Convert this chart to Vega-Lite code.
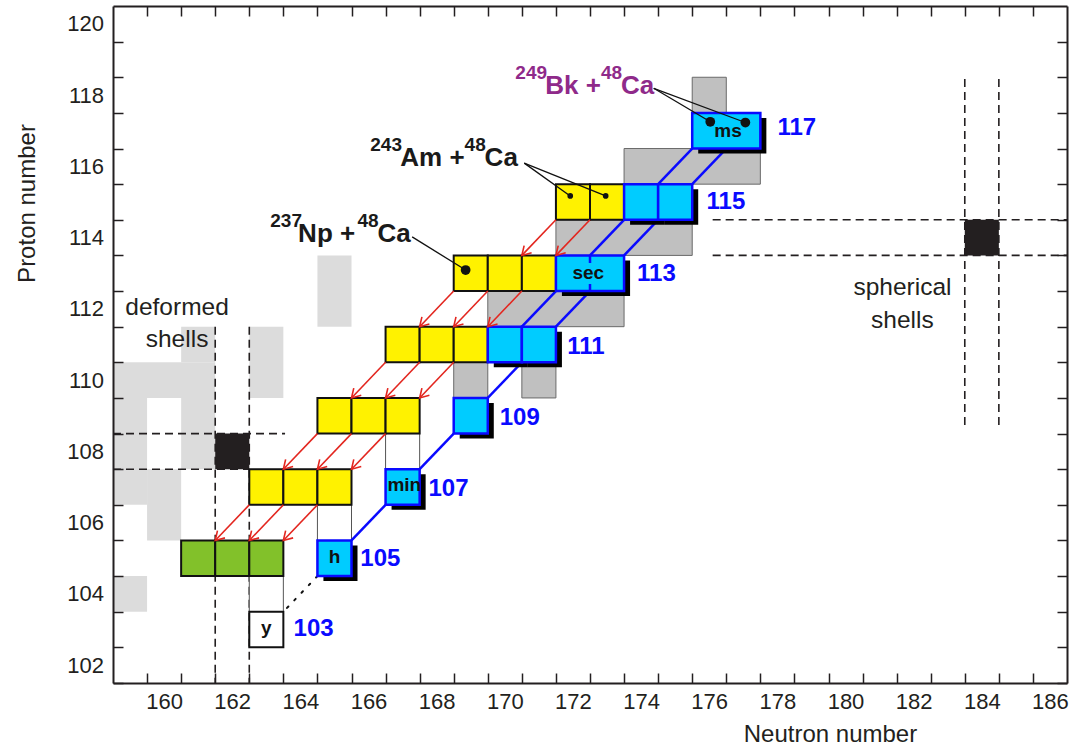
{
 "$schema": "https://vega.github.io/schema/vega-lite/v6.json",
 "width": 954,
 "height": 677,
 "autosize": {"type": "none"},
 "padding": {"left": 113, "top": 6, "right": 6, "bottom": 65},
 "background": "white",
 "config": {"view": {"stroke": null}},
 "resolve": {"axis": {"x": "independent", "y": "independent"}},
 "datasets": {
  "rects": [
   {"kind": "light", "n1": 164.5, "n2": 165.5, "z1": 111.5, "z2": 113.5},
   {"kind": "light", "n1": 160.5, "n2": 161.5, "z1": 110.5, "z2": 111.5},
   {"kind": "light", "n1": 162.5, "n2": 163.5, "z1": 109.5, "z2": 111.5},
   {"kind": "light", "n1": 158.5, "n2": 161.5, "z1": 109.5, "z2": 110.5},
   {"kind": "light", "n1": 158.5, "n2": 159.5, "z1": 106.5, "z2": 109.5},
   {"kind": "light", "n1": 160.5, "n2": 161.5, "z1": 107.5, "z2": 109.5},
   {"kind": "light", "n1": 159.5, "n2": 160.5, "z1": 105.5, "z2": 107.5},
   {"kind": "light", "n1": 158.5, "n2": 159.5, "z1": 103.5, "z2": 104.5},
   {"kind": "black", "n1": 161.5, "n2": 162.5, "z1": 107.5, "z2": 108.5},
   {"kind": "black", "n1": 183.5, "n2": 184.5, "z1": 113.5, "z2": 114.5},
   {"kind": "grey", "n1": 175.5, "n2": 176.5, "z1": 116.5, "z2": 118.5},
   {"kind": "grey", "n1": 173.5, "n2": 177.5, "z1": 115.5, "z2": 116.5},
   {"kind": "grey", "n1": 171.5, "n2": 175.5, "z1": 113.5, "z2": 114.5},
   {"kind": "grey", "n1": 169.5, "n2": 173.5, "z1": 111.5, "z2": 112.5},
   {"kind": "grey", "n1": 168.5, "n2": 169.5, "z1": 109.5, "z2": 110.5},
   {"kind": "grey", "n1": 170.5, "n2": 171.5, "z1": 109.5, "z2": 110.5},
   {"kind": "outline", "n1": 166.5, "n2": 167.5, "z1": 107.5, "z2": 108.5},
   {"kind": "outline", "n1": 164.5, "n2": 165.5, "z1": 105.5, "z2": 106.5},
   {"kind": "outline", "n1": 162.5, "n2": 163.5, "z1": 103.5, "z2": 104.5},
   {"kind": "yellow", "n1": 171.5, "n2": 172.5, "z1": 114.5, "z2": 115.5},
   {"kind": "yellow", "n1": 172.5, "n2": 173.5, "z1": 114.5, "z2": 115.5},
   {"kind": "yellow", "n1": 168.5, "n2": 169.5, "z1": 112.5, "z2": 113.5},
   {"kind": "yellow", "n1": 169.5, "n2": 170.5, "z1": 112.5, "z2": 113.5},
   {"kind": "yellow", "n1": 170.5, "n2": 171.5, "z1": 112.5, "z2": 113.5},
   {"kind": "yellow", "n1": 166.5, "n2": 167.5, "z1": 110.5, "z2": 111.5},
   {"kind": "yellow", "n1": 167.5, "n2": 168.5, "z1": 110.5, "z2": 111.5},
   {"kind": "yellow", "n1": 168.5, "n2": 169.5, "z1": 110.5, "z2": 111.5},
   {"kind": "yellow", "n1": 164.5, "n2": 165.5, "z1": 108.5, "z2": 109.5},
   {"kind": "yellow", "n1": 165.5, "n2": 166.5, "z1": 108.5, "z2": 109.5},
   {"kind": "yellow", "n1": 166.5, "n2": 167.5, "z1": 108.5, "z2": 109.5},
   {"kind": "yellow", "n1": 162.5, "n2": 163.5, "z1": 106.5, "z2": 107.5},
   {"kind": "yellow", "n1": 163.5, "n2": 164.5, "z1": 106.5, "z2": 107.5},
   {"kind": "yellow", "n1": 164.5, "n2": 165.5, "z1": 106.5, "z2": 107.5},
   {"kind": "green", "n1": 160.5, "n2": 161.5, "z1": 104.5, "z2": 105.5},
   {"kind": "green", "n1": 161.5, "n2": 162.5, "z1": 104.5, "z2": 105.5},
   {"kind": "green", "n1": 162.5, "n2": 163.5, "z1": 104.5, "z2": 105.5},
   {"kind": "white", "n1": 162.5, "n2": 163.5, "z1": 102.5, "z2": 103.5},
   {"kind": "blue", "n1": 175.5, "n2": 177.5, "z1": 116.5, "z2": 117.5},
   {"kind": "blue", "n1": 173.5, "n2": 174.5, "z1": 114.5, "z2": 115.5},
   {"kind": "blue", "n1": 174.5, "n2": 175.5, "z1": 114.5, "z2": 115.5},
   {"kind": "blue", "n1": 171.5, "n2": 173.5, "z1": 112.5, "z2": 113.5},
   {"kind": "blue", "n1": 169.5, "n2": 170.5, "z1": 110.5, "z2": 111.5},
   {"kind": "blue", "n1": 170.5, "n2": 171.5, "z1": 110.5, "z2": 111.5},
   {"kind": "blue", "n1": 168.5, "n2": 169.5, "z1": 108.5, "z2": 109.5},
   {"kind": "blue", "n1": 166.5, "n2": 167.5, "z1": 106.5, "z2": 107.5},
   {"kind": "blue", "n1": 164.5, "n2": 165.5, "z1": 104.5, "z2": 105.5}
  ],
  "links": [
   {"kind": "dash", "n1": 161.5, "z1": 111.5, "n2": 161.5, "z2": 101.5},
   {"kind": "dash", "n1": 162.5, "z1": 111.5, "n2": 162.5, "z2": 101.5},
   {"kind": "dash", "n1": 158.5, "z1": 108.5, "n2": 163.55, "z2": 108.5},
   {"kind": "dash", "n1": 158.5, "z1": 107.5, "n2": 162.5, "z2": 107.5},
   {"kind": "dash", "n1": 183.5, "z1": 118.45, "n2": 183.5, "z2": 108.65},
   {"kind": "dash", "n1": 184.5, "z1": 118.45, "n2": 184.5, "z2": 108.65},
   {"kind": "dash", "n1": 176.1, "z1": 114.5, "n2": 186.5, "z2": 114.5},
   {"kind": "dash", "n1": 176.1, "z1": 113.5, "n2": 186.5, "z2": 113.5},
   {"kind": "chain", "n1": 175.5, "z1": 116.5, "n2": 174.5, "z2": 115.5},
   {"kind": "chain", "n1": 176.5, "z1": 116.5, "n2": 175.5, "z2": 115.5},
   {"kind": "chain", "n1": 173.5, "z1": 114.5, "n2": 172.5, "z2": 113.5},
   {"kind": "chain", "n1": 174.5, "z1": 114.5, "n2": 173.5, "z2": 113.5},
   {"kind": "chain", "n1": 171.5, "z1": 112.5, "n2": 170.5, "z2": 111.5},
   {"kind": "chain", "n1": 172.5, "z1": 112.5, "n2": 171.5, "z2": 111.5},
   {"kind": "chain", "n1": 170.5, "z1": 110.5, "n2": 169.5, "z2": 109.5},
   {"kind": "chain", "n1": 168.5, "z1": 108.5, "n2": 167.5, "z2": 107.5},
   {"kind": "chain", "n1": 166.5, "z1": 106.5, "n2": 165.5, "z2": 105.5},
   {"kind": "dotted", "n1": 164.5, "z1": 104.5, "n2": 163.5, "z2": 103.5},
   {"kind": "divider", "n1": 172.5, "z1": 113.5, "n2": 172.5, "z2": 112.5},
   {"kind": "alpha", "n1": 171.5, "z1": 114.5, "n2": 170.5, "z2": 113.5},
   {"kind": "alpha", "n1": 172.5, "z1": 114.5, "n2": 171.5, "z2": 113.5},
   {"kind": "alpha", "n1": 168.5, "z1": 112.5, "n2": 167.5, "z2": 111.5},
   {"kind": "alpha", "n1": 169.5, "z1": 112.5, "n2": 168.5, "z2": 111.5},
   {"kind": "alpha", "n1": 170.5, "z1": 112.5, "n2": 169.5, "z2": 111.5},
   {"kind": "alpha", "n1": 166.5, "z1": 110.5, "n2": 165.5, "z2": 109.5},
   {"kind": "alpha", "n1": 167.5, "z1": 110.5, "n2": 166.5, "z2": 109.5},
   {"kind": "alpha", "n1": 168.5, "z1": 110.5, "n2": 167.5, "z2": 109.5},
   {"kind": "alpha", "n1": 164.5, "z1": 108.5, "n2": 163.5, "z2": 107.5},
   {"kind": "alpha", "n1": 165.5, "z1": 108.5, "n2": 164.5, "z2": 107.5},
   {"kind": "alpha", "n1": 166.5, "z1": 108.5, "n2": 165.5, "z2": 107.5},
   {"kind": "alpha", "n1": 162.5, "z1": 106.5, "n2": 161.5, "z2": 105.5},
   {"kind": "alpha", "n1": 163.5, "z1": 106.5, "n2": 162.5, "z2": 105.5},
   {"kind": "alpha", "n1": 164.5, "z1": 106.5, "n2": 163.5, "z2": 105.5},
   {"kind": "pointer", "n1": 174.37, "z1": 118.19, "n2": 176.03, "z2": 117.25},
   {"kind": "pointer", "n1": 174.37, "z1": 118.19, "n2": 177.06, "z2": 117.23},
   {"kind": "pointer", "n1": 170.57, "z1": 116.09, "n2": 171.92, "z2": 115.17},
   {"kind": "pointer", "n1": 170.57, "z1": 116.09, "n2": 172.96, "z2": 115.17},
   {"kind": "pointer", "n1": 167.28, "z1": 114.02, "n2": 168.85, "z2": 113.09}
  ],
  "dots": [
   {"kind": "big", "n": 176.03, "z": 117.25},
   {"kind": "big", "n": 177.06, "z": 117.23},
   {"kind": "big", "n": 168.85, "z": 113.09},
   {"kind": "small", "n": 171.92, "z": 115.17},
   {"kind": "small", "n": 172.96, "z": 115.17}
  ],
  "texts": [
   {"kind": "cell", "n": 176.55, "z": 116.98, "label": "ms"},
   {"kind": "cell", "n": 172.45, "z": 113.0, "label": "sec"},
   {"kind": "cell", "n": 167.05, "z": 107.05, "label": "min"},
   {"kind": "cell", "n": 165.0, "z": 105.05, "label": "h"},
   {"kind": "cell", "n": 163.0, "z": 103.05, "label": "y"},
   {"kind": "zlabel", "n": 178.0, "z": 117.09, "label": "117"},
   {"kind": "zlabel", "n": 175.92, "z": 115.01, "label": "115"},
   {"kind": "zlabel", "n": 173.88, "z": 112.97, "label": "113"},
   {"kind": "zlabel", "n": 171.83, "z": 110.94, "label": "111"},
   {"kind": "zlabel", "n": 169.85, "z": 108.95, "label": "109"},
   {"kind": "zlabel", "n": 167.76, "z": 106.95, "label": "107"},
   {"kind": "zlabel", "n": 165.76, "z": 104.97, "label": "105"},
   {"kind": "zlabel", "n": 163.8, "z": 103.01, "label": "103"},
   {"kind": "rsup", "grp": "Bk", "n": 170.308, "z": 118.45, "label": "249"},
   {"kind": "rmain", "grp": "Bk", "n": 171.189, "z": 118.03, "label": "Bk +"},
   {"kind": "rsup", "grp": "Bk", "n": 172.821, "z": 118.45, "label": "48"},
   {"kind": "rmain", "grp": "Bk", "n": 173.408, "z": 118.03, "label": "Ca"},
   {"kind": "rsup", "grp": "Am", "n": 166.052, "z": 116.43, "label": "243"},
   {"kind": "rmain", "grp": "Am", "n": 166.933, "z": 116.01, "label": "Am +"},
   {"kind": "rsup", "grp": "Am", "n": 168.82, "z": 116.43, "label": "48"},
   {"kind": "rmain", "grp": "Am", "n": 169.407, "z": 116.01, "label": "Ca"},
   {"kind": "rsup", "grp": "Np", "n": 163.117, "z": 114.3, "label": "237"},
   {"kind": "rmain", "grp": "Np", "n": 163.933, "z": 113.87, "label": "Np +"},
   {"kind": "rsup", "grp": "Np", "n": 165.673, "z": 114.3, "label": "48"},
   {"kind": "rmain", "grp": "Np", "n": 166.26, "z": 113.87, "label": "Ca"},
   {"kind": "shell", "n": 160.38, "z": 111.83, "label": "deformed"},
   {"kind": "shell", "n": 160.38, "z": 110.94, "label": "shells"},
   {"kind": "shell", "n": 181.67, "z": 112.39, "label": "spherical"},
   {"kind": "shell", "n": 181.67, "z": 111.47, "label": "shells"}
  ]
 },
 "layer": [
  {
   "data": {"name": "rects"},
   "transform": [{"filter": "datum.kind == 'light'"}],
   "mark": {"type": "rect", "fill": "#dcdcdc"},
   "encoding": {
    "x": {"field": "n1", "type": "quantitative", "scale": {"domain": [158.5, 186.5], "nice": false, "zero": false},
     "axis": {"orient": "bottom", "values": [159.5,160.5,161.5,162.5,163.5,164.5,165.5,166.5,167.5,168.5,169.5,170.5,171.5,172.5,173.5,174.5,175.5,176.5,177.5,178.5,179.5,180.5,181.5,182.5,183.5,184.5,185.5],
      "labelExpr": "(datum.value + 0.5) % 2 == 0 ? format(datum.value + 0.5, 'd') : ''",
      "labelOffset": 17, "labelPadding": 18, "labelFont": "Liberation Sans", "labelFontSize": 22, "labelColor": "#231f20",
      "labelFlush": false, "labelOverlap": false, "labelBound": false,
      "tickSize": -10, "tickWidth": 1.5, "tickColor": "#231f20",
      "domainColor": "#231f20", "domainWidth": 2, "grid": false,
      "title": "Neutron number", "titleFont": "Liberation Sans", "titleFontSize": 24, "titleFontWeight": "normal", "titleColor": "#231f20",
      "titleX": 717, "titleY": 51, "titleAlign": "center", "titleBaseline": "middle", "titleAngle": 0, "zindex": 1}},
    "x2": {"field": "n2"},
    "y": {"field": "z1", "type": "quantitative", "scale": {"domain": [101.5, 120.5], "nice": false, "zero": false},
     "axis": {"orient": "left", "values": [101.5,102.5,103.5,104.5,105.5,106.5,107.5,108.5,109.5,110.5,111.5,112.5,113.5,114.5,115.5,116.5,117.5,118.5,119.5],
      "labelExpr": "(datum.value + 0.5) % 2 == 0 ? format(datum.value + 0.5, 'd') : ''",
      "labelOffset": -17.8, "labelPadding": 19.5, "labelFont": "Liberation Sans", "labelFontSize": 22, "labelColor": "#231f20",
      "labelAlign": "right", "labelBaseline": "middle",
      "labelFlush": false, "labelOverlap": false, "labelBound": false,
      "tickSize": -10, "tickWidth": 1.5, "tickColor": "#231f20",
      "domainColor": "#231f20", "domainWidth": 2, "grid": false,
      "title": "Proton number", "titleFont": "Liberation Sans", "titleFontSize": 24, "titleFontWeight": "normal", "titleColor": "#231f20",
      "titleX": -86, "titleY": 197, "titleAlign": "center", "titleBaseline": "middle", "titleAngle": -90, "zindex": 1}},
    "y2": {"field": "z2"}
   }
  },
  {
   "data": {"name": "links"},
   "transform": [{"filter": "datum.kind == 'dash'"}],
   "mark": {"type": "rule", "color": "#231f20", "strokeWidth": 1.6, "strokeDash": [8, 5]},
   "encoding": {
    "x": {"field": "n1", "type": "quantitative", "scale": {"domain": [158.5, 186.5], "nice": false, "zero": false},
     "axis": {"orient": "top", "values": [159.5,160.5,161.5,162.5,163.5,164.5,165.5,166.5,167.5,168.5,169.5,170.5,171.5,172.5,173.5,174.5,175.5,176.5,177.5,178.5,179.5,180.5,181.5,182.5,183.5,184.5,185.5],
      "labels": false, "tickSize": -10, "tickWidth": 1.5, "tickColor": "#231f20", "domainColor": "#231f20", "domainWidth": 2, "grid": false, "title": null, "zindex": 1}},
    "x2": {"field": "n2"},
    "y": {"field": "z1", "type": "quantitative", "scale": {"domain": [101.5, 120.5], "nice": false, "zero": false},
     "axis": {"orient": "right", "values": [101.5,102.5,103.5,104.5,105.5,106.5,107.5,108.5,109.5,110.5,111.5,112.5,113.5,114.5,115.5,116.5,117.5,118.5,119.5],
      "labels": false, "tickSize": -10, "tickWidth": 1.5, "tickColor": "#231f20", "domainColor": "#231f20", "domainWidth": 2, "grid": false, "title": null, "zindex": 1}},
    "y2": {"field": "z2"}
   }
  },
  {
   "data": {"name": "rects"},
   "transform": [{"filter": "datum.kind == 'black'"}],
   "mark": {"type": "rect", "fill": "#231f20"},
   "encoding": {
    "x": {"field": "n1", "type": "quantitative", "scale": {"domain": [158.5, 186.5], "nice": false, "zero": false}, "axis": null},
    "x2": {"field": "n2"},
    "y": {"field": "z1", "type": "quantitative", "scale": {"domain": [101.5, 120.5], "nice": false, "zero": false}, "axis": null},
    "y2": {"field": "z2"}
   }
  },
  {
   "data": {"name": "rects"},
   "transform": [{"filter": "datum.kind == 'grey'"}],
   "mark": {"type": "rect", "fill": "#c0c0c0", "stroke": "#6a6a6a", "strokeWidth": 1},
   "encoding": {
    "x": {"field": "n1", "type": "quantitative", "scale": {"domain": [158.5, 186.5], "nice": false, "zero": false}, "axis": null},
    "x2": {"field": "n2"},
    "y": {"field": "z1", "type": "quantitative", "scale": {"domain": [101.5, 120.5], "nice": false, "zero": false}, "axis": null},
    "y2": {"field": "z2"}
   }
  },
  {
   "data": {"name": "rects"},
   "transform": [{"filter": "datum.kind == 'outline'"}],
   "mark": {"type": "rect", "fill": "white", "stroke": "#555555", "strokeWidth": 1},
   "encoding": {
    "x": {"field": "n1", "type": "quantitative", "scale": {"domain": [158.5, 186.5], "nice": false, "zero": false}, "axis": null},
    "x2": {"field": "n2"},
    "y": {"field": "z1", "type": "quantitative", "scale": {"domain": [101.5, 120.5], "nice": false, "zero": false}, "axis": null},
    "y2": {"field": "z2"}
   }
  },
  {
   "data": {"name": "links"},
   "transform": [{"filter": "datum.kind == 'chain'"}],
   "mark": {"type": "rule", "color": "#0a0aff", "strokeWidth": 2.5},
   "encoding": {
    "x": {"field": "n1", "type": "quantitative", "scale": {"domain": [158.5, 186.5], "nice": false, "zero": false}, "axis": null},
    "x2": {"field": "n2"},
    "y": {"field": "z1", "type": "quantitative", "scale": {"domain": [101.5, 120.5], "nice": false, "zero": false}, "axis": null},
    "y2": {"field": "z2"}
   }
  },
  {
   "data": {"name": "links"},
   "transform": [{"filter": "datum.kind == 'dotted'"}],
   "mark": {"type": "rule", "color": "#111111", "strokeWidth": 2, "strokeDash": [2, 8.5], "strokeCap": "round"},
   "encoding": {
    "x": {"field": "n1", "type": "quantitative", "scale": {"domain": [158.5, 186.5], "nice": false, "zero": false}, "axis": null},
    "x2": {"field": "n2"},
    "y": {"field": "z1", "type": "quantitative", "scale": {"domain": [101.5, 120.5], "nice": false, "zero": false}, "axis": null},
    "y2": {"field": "z2"}
   }
  },
  {
   "data": {"name": "rects"},
   "transform": [{"filter": "datum.kind == 'blue'"}],
   "mark": {"type": "rect", "fill": "#000000", "xOffset": 6, "x2Offset": 6, "yOffset": 5, "y2Offset": 5},
   "encoding": {
    "x": {"field": "n1", "type": "quantitative", "scale": {"domain": [158.5, 186.5], "nice": false, "zero": false}, "axis": null},
    "x2": {"field": "n2"},
    "y": {"field": "z1", "type": "quantitative", "scale": {"domain": [101.5, 120.5], "nice": false, "zero": false}, "axis": null},
    "y2": {"field": "z2"}
   }
  },
  {
   "data": {"name": "rects"},
   "transform": [{"filter": "datum.kind == 'yellow'"}],
   "mark": {"type": "rect", "fill": "#fff200", "stroke": "#111111", "strokeWidth": 2},
   "encoding": {
    "x": {"field": "n1", "type": "quantitative", "scale": {"domain": [158.5, 186.5], "nice": false, "zero": false}, "axis": null},
    "x2": {"field": "n2"},
    "y": {"field": "z1", "type": "quantitative", "scale": {"domain": [101.5, 120.5], "nice": false, "zero": false}, "axis": null},
    "y2": {"field": "z2"}
   }
  },
  {
   "data": {"name": "rects"},
   "transform": [{"filter": "datum.kind == 'green'"}],
   "mark": {"type": "rect", "fill": "#82c12a", "stroke": "#111111", "strokeWidth": 2},
   "encoding": {
    "x": {"field": "n1", "type": "quantitative", "scale": {"domain": [158.5, 186.5], "nice": false, "zero": false}, "axis": null},
    "x2": {"field": "n2"},
    "y": {"field": "z1", "type": "quantitative", "scale": {"domain": [101.5, 120.5], "nice": false, "zero": false}, "axis": null},
    "y2": {"field": "z2"}
   }
  },
  {
   "data": {"name": "rects"},
   "transform": [{"filter": "datum.kind == 'white'"}],
   "mark": {"type": "rect", "fill": "white", "stroke": "#111111", "strokeWidth": 2},
   "encoding": {
    "x": {"field": "n1", "type": "quantitative", "scale": {"domain": [158.5, 186.5], "nice": false, "zero": false}, "axis": null},
    "x2": {"field": "n2"},
    "y": {"field": "z1", "type": "quantitative", "scale": {"domain": [101.5, 120.5], "nice": false, "zero": false}, "axis": null},
    "y2": {"field": "z2"}
   }
  },
  {
   "data": {"name": "rects"},
   "transform": [{"filter": "datum.kind == 'blue'"}],
   "mark": {"type": "rect", "fill": "#00ccff", "stroke": "#0a0aff", "strokeWidth": 2.5},
   "encoding": {
    "x": {"field": "n1", "type": "quantitative", "scale": {"domain": [158.5, 186.5], "nice": false, "zero": false}, "axis": null},
    "x2": {"field": "n2"},
    "y": {"field": "z1", "type": "quantitative", "scale": {"domain": [101.5, 120.5], "nice": false, "zero": false}, "axis": null},
    "y2": {"field": "z2"}
   }
  },
  {
   "data": {"name": "links"},
   "transform": [{"filter": "datum.kind == 'divider'"}],
   "mark": {"type": "rule", "color": "#0a0aff", "strokeWidth": 2.5, "strokeDash": [7.5, 21]},
   "encoding": {
    "x": {"field": "n1", "type": "quantitative", "scale": {"domain": [158.5, 186.5], "nice": false, "zero": false}, "axis": null},
    "x2": {"field": "n2"},
    "y": {"field": "z1", "type": "quantitative", "scale": {"domain": [101.5, 120.5], "nice": false, "zero": false}, "axis": null},
    "y2": {"field": "z2"}
   }
  },
  {
   "data": {"name": "links"},
   "transform": [{"filter": "datum.kind == 'alpha'"}],
   "mark": {"type": "rule", "color": "#e3261f", "strokeWidth": 1.6},
   "encoding": {
    "x": {"field": "n1", "type": "quantitative", "scale": {"domain": [158.5, 186.5], "nice": false, "zero": false}, "axis": null},
    "x2": {"field": "n2"},
    "y": {"field": "z1", "type": "quantitative", "scale": {"domain": [101.5, 120.5], "nice": false, "zero": false}, "axis": null},
    "y2": {"field": "z2"}
   }
  },
  {
   "data": {"name": "links"},
   "transform": [{"filter": "datum.kind == 'alpha'"}],
   "mark": {"type": "point", "shape": "M-1,-0.6L0,0L-1,0.6", "filled": false, "color": "#e3261f", "strokeWidth": 1.6, "size": 300, "angle": 134, "opacity": 1},
   "encoding": {
    "x": {"field": "n2", "type": "quantitative", "scale": {"domain": [158.5, 186.5], "nice": false, "zero": false}, "axis": null},
    "y": {"field": "z2", "type": "quantitative", "scale": {"domain": [101.5, 120.5], "nice": false, "zero": false}, "axis": null}
   }
  },
  {
   "data": {"name": "links"},
   "transform": [{"filter": "datum.kind == 'pointer'"}],
   "mark": {"type": "rule", "color": "#111111", "strokeWidth": 1.3},
   "encoding": {
    "x": {"field": "n1", "type": "quantitative", "scale": {"domain": [158.5, 186.5], "nice": false, "zero": false}, "axis": null},
    "x2": {"field": "n2"},
    "y": {"field": "z1", "type": "quantitative", "scale": {"domain": [101.5, 120.5], "nice": false, "zero": false}, "axis": null},
    "y2": {"field": "z2"}
   }
  },
  {
   "data": {"name": "dots"},
   "transform": [{"filter": "datum.kind == 'big'"}],
   "mark": {"type": "circle", "color": "#111111", "size": 95, "opacity": 1},
   "encoding": {
    "x": {"field": "n", "type": "quantitative", "scale": {"domain": [158.5, 186.5], "nice": false, "zero": false}, "axis": null},
    "y": {"field": "z", "type": "quantitative", "scale": {"domain": [101.5, 120.5], "nice": false, "zero": false}, "axis": null}
   }
  },
  {
   "data": {"name": "dots"},
   "transform": [{"filter": "datum.kind == 'small'"}],
   "mark": {"type": "circle", "color": "#111111", "size": 32, "opacity": 1},
   "encoding": {
    "x": {"field": "n", "type": "quantitative", "scale": {"domain": [158.5, 186.5], "nice": false, "zero": false}, "axis": null},
    "y": {"field": "z", "type": "quantitative", "scale": {"domain": [101.5, 120.5], "nice": false, "zero": false}, "axis": null}
   }
  },
  {
   "data": {"name": "texts"},
   "transform": [{"filter": "datum.kind == 'cell'"}],
   "mark": {"type": "text", "font": "Liberation Sans", "fontWeight": "bold", "fontSize": 19, "color": "#111111", "align": "center", "baseline": "middle"},
   "encoding": {
    "x": {"field": "n", "type": "quantitative", "scale": {"domain": [158.5, 186.5], "nice": false, "zero": false}, "axis": null},
    "y": {"field": "z", "type": "quantitative", "scale": {"domain": [101.5, 120.5], "nice": false, "zero": false}, "axis": null},
    "text": {"field": "label"}
   }
  },
  {
   "data": {"name": "texts"},
   "transform": [{"filter": "datum.kind == 'zlabel'"}],
   "mark": {"type": "text", "font": "Liberation Sans", "fontWeight": "bold", "fontSize": 24, "color": "#0a0aff", "align": "left", "baseline": "middle"},
   "encoding": {
    "x": {"field": "n", "type": "quantitative", "scale": {"domain": [158.5, 186.5], "nice": false, "zero": false}, "axis": null},
    "y": {"field": "z", "type": "quantitative", "scale": {"domain": [101.5, 120.5], "nice": false, "zero": false}, "axis": null},
    "text": {"field": "label"}
   }
  },
  {
   "data": {"name": "texts"},
   "transform": [{"filter": "datum.kind == 'rmain'"}],
   "mark": {"type": "text", "font": "Liberation Sans", "fontWeight": "bold", "fontSize": 26, "align": "left", "baseline": "alphabetic"},
   "encoding": {
    "x": {"field": "n", "type": "quantitative", "scale": {"domain": [158.5, 186.5], "nice": false, "zero": false}, "axis": null},
    "y": {"field": "z", "type": "quantitative", "scale": {"domain": [101.5, 120.5], "nice": false, "zero": false}, "axis": null},
    "color": {"field": "grp", "type": "nominal", "scale": {"domain": ["Bk", "Am", "Np"], "range": ["#8f2a8a", "#1a1a1a", "#1a1a1a"]}, "legend": null},
    "text": {"field": "label"}
   }
  },
  {
   "data": {"name": "texts"},
   "transform": [{"filter": "datum.kind == 'rsup'"}],
   "mark": {"type": "text", "font": "Liberation Sans", "fontWeight": "bold", "fontSize": 19, "align": "left", "baseline": "alphabetic"},
   "encoding": {
    "x": {"field": "n", "type": "quantitative", "scale": {"domain": [158.5, 186.5], "nice": false, "zero": false}, "axis": null},
    "y": {"field": "z", "type": "quantitative", "scale": {"domain": [101.5, 120.5], "nice": false, "zero": false}, "axis": null},
    "color": {"field": "grp", "type": "nominal", "scale": {"domain": ["Bk", "Am", "Np"], "range": ["#8f2a8a", "#1a1a1a", "#1a1a1a"]}, "legend": null},
    "text": {"field": "label"}
   }
  },
  {
   "data": {"name": "texts"},
   "transform": [{"filter": "datum.kind == 'shell'"}],
   "mark": {"type": "text", "font": "Liberation Sans", "fontSize": 24.5, "color": "#231f20", "align": "center", "baseline": "alphabetic"},
   "encoding": {
    "x": {"field": "n", "type": "quantitative", "scale": {"domain": [158.5, 186.5], "nice": false, "zero": false}, "axis": null},
    "y": {"field": "z", "type": "quantitative", "scale": {"domain": [101.5, 120.5], "nice": false, "zero": false}, "axis": null},
    "text": {"field": "label"}
   }
  }
 ]
}
